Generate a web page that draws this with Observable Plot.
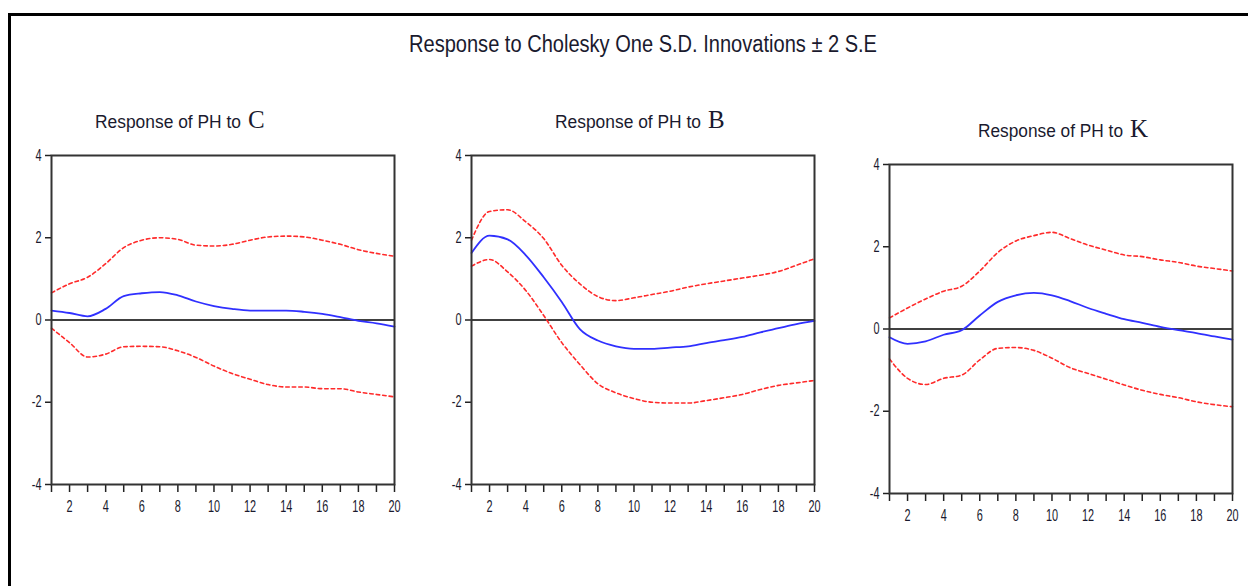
<!DOCTYPE html>
<html>
<head>
<meta charset="utf-8">
<script src="https://cdn.jsdelivr.net/npm/d3@7"></script>
<script src="https://cdn.jsdelivr.net/npm/@observablehq/plot@0.6"></script>
<style>
  html, body { margin: 0; padding: 0; background: #fff; }
  #root { position: relative; width: 1248px; height: 586px; overflow: hidden; background: #fff; font-family: "Liberation Sans", Arial, sans-serif; color: #1a1a2e; }
  #topline { position: absolute; left: 8px; top: 13px; width: 1240px; height: 3px; background: #000; }
  #leftline { position: absolute; left: 8px; top: 13px; width: 3px; height: 573px; background: #000; }
  .sq { position: absolute; white-space: nowrap; line-height: 1; }
  .sq .txt { display: inline-block; transform-origin: 0 0; }
  .sq .v { display: inline-block; font-family: "Liberation Serif", "Times New Roman", serif; font-size: 25px; }
  .panel { position: absolute; }
</style>
</head>
<body>
<div id="root">
  <div id="topline"></div>
  <div id="leftline"></div>
</div>
<script>
// ---- data ----
const periods = [1,2,3,4,5,6,7,8,9,10,11,12,13,14,15,16,17,18,19,20];
const yTicks = [-4,-2,0,2,4];
const xTicks = [1,2,3,4,5,6,7,8,9,10,11,12,13,14,15,16,17,18,19,20];

const mainTitle = "Response to Cholesky One S.D. Innovations ± 2 S.E";
const titlePrefix = "Response of PH to";
const titles = ["C", "B", "K"];

const respC = [0.23,0.17,0.09,0.27,0.58,0.65,0.68,0.60,0.45,0.34,0.27,0.23,0.23,0.23,0.20,0.15,0.07,-0.02,-0.08,-0.16];
const upperC = [0.66,0.88,1.04,1.37,1.76,1.94,2.00,1.96,1.82,1.80,1.84,1.94,2.02,2.04,2.02,1.94,1.84,1.71,1.62,1.55];
const lowerC = [-0.20,-0.55,-0.90,-0.83,-0.65,-0.64,-0.65,-0.75,-0.91,-1.12,-1.30,-1.44,-1.57,-1.63,-1.63,-1.67,-1.67,-1.75,-1.81,-1.87];

const respB = [1.63,2.05,1.96,1.58,1.04,0.44,-0.22,-0.50,-0.64,-0.70,-0.70,-0.67,-0.64,-0.56,-0.49,-0.41,-0.30,-0.20,-0.10,-0.02];
const upperB = [1.94,2.64,2.68,2.39,1.98,1.33,0.88,0.57,0.47,0.54,0.62,0.70,0.80,0.88,0.95,1.02,1.09,1.18,1.33,1.49];
const lowerB = [1.31,1.47,1.17,0.72,0.11,-0.55,-1.08,-1.55,-1.77,-1.91,-2.00,-2.02,-2.02,-1.96,-1.89,-1.81,-1.69,-1.59,-1.53,-1.47];

const respK = [-0.20,-0.36,-0.30,-0.14,-0.03,0.33,0.66,0.82,0.88,0.82,0.68,0.51,0.37,0.24,0.15,0.05,-0.03,-0.10,-0.18,-0.26];
const upperK = [0.27,0.51,0.73,0.92,1.04,1.41,1.86,2.14,2.27,2.35,2.20,2.04,1.92,1.80,1.76,1.68,1.62,1.53,1.47,1.41];
const lowerK = [-0.73,-1.20,-1.35,-1.20,-1.12,-0.75,-0.47,-0.45,-0.52,-0.71,-0.94,-1.08,-1.22,-1.36,-1.49,-1.59,-1.67,-1.77,-1.84,-1.89];

// ---- layout ----
const panels = [
  {title: titles[0], resp: respC, upper: upperC, lower: lowerC, frameLeft: 51, frameTop: 155, titleLeft: 95, titleTop: 107, titleW: 146},
  {title: titles[1], resp: respB, upper: upperB, lower: lowerB, frameLeft: 471, frameTop: 155, titleLeft: 555, titleTop: 107, titleW: 146},
  {title: titles[2], resp: respK, upper: upperK, lower: lowerK, frameLeft: 889, frameTop: 164, titleLeft: 978, titleTop: 116, titleW: 145}
];
const frameW = 343, frameH = 329;
const mL = 40, mT = 10, mR = 12, mB = 40;
const tickFont = 16;

const root = document.getElementById("root");

// squeezed (narrow) HTML text: scale horizontally to a target width
function squeezed(text, fontSize, targetW, left, top, extra) {
  const d = document.createElement("div");
  d.className = "sq";
  d.style.left = left + "px";
  d.style.top = top + "px";
  const s = document.createElement("span");
  s.className = "txt";
  s.style.fontSize = fontSize + "px";
  s.textContent = text;
  d.appendChild(s);
  if (extra) d.appendChild(extra);
  root.appendChild(d);
  const w = s.getBoundingClientRect().width;
  const k = targetW / w;
  s.style.transform = `scaleX(${k})`;
  s.style.marginRight = (-(w - targetW) + 7) + "px";
  return d;
}

squeezed(mainTitle, 23, 468, 409, 33);

for (const p of panels) {
  const v = document.createElement("span");
  v.className = "v";
  v.textContent = p.title;
  squeezed(titlePrefix, 18, p.titleW, p.titleLeft, p.titleTop, v);

  const rows = periods.map((x, i) => ({x, resp: p.resp[i], upper: p.upper[i], lower: p.lower[i]}));

  const chart = Plot.plot({
    width: frameW + mL + mR,
    height: frameH + mT + mB,
    marginLeft: mL, marginTop: mT, marginRight: mR, marginBottom: mB,
    style: {fontFamily: '"Liberation Sans", Arial, sans-serif', fontSize: tickFont + "px", color: "#1a1a2e", background: "transparent"},
    x: {domain: [1, 20]},
    y: {domain: [-4, 4]},
    marks: [
      Plot.axisY({ticks: yTicks, tickSize: 6, tickPadding: 4, fontSize: tickFont, label: null, stroke: "#222", strokeWidth: 1.5, tickFormat: d => String(d)}),
      Plot.axisX({ticks: xTicks, tickSize: 8, tickPadding: 8, fontSize: tickFont, label: null, stroke: "#222", strokeWidth: 1.5, tickFormat: d => d % 2 === 0 ? String(d) : ""}),
      Plot.ruleY([0], {stroke: "#000", strokeWidth: 1.5}),
      Plot.line(rows, {x: "x", y: "upper", stroke: "#ff2a2a", strokeWidth: 1.6, strokeDasharray: "3.5,3", curve: "monotone-x"}),
      Plot.line(rows, {x: "x", y: "lower", stroke: "#ff2a2a", strokeWidth: 1.6, strokeDasharray: "3.5,3", curve: "monotone-x"}),
      Plot.line(rows, {x: "x", y: "resp", stroke: "#3030ff", strokeWidth: 1.8, curve: "monotone-x"}),
      Plot.frame({stroke: "#333", strokeWidth: 2})
    ]
  });
  chart.classList.add("panel");
  chart.style.left = (p.frameLeft - mL) + "px";
  chart.style.top = (p.frameTop - mT) + "px";
  root.appendChild(chart);

  // make tick labels narrow like the reference
  chart.querySelectorAll("g[aria-label$='tick label'] text").forEach(t => {
    t.setAttribute("font-size", tickFont);
    t.style.fontSize = tickFont + "px";
    const len = t.getComputedTextLength();
    if (len > 0) {
      t.setAttribute("textLength", (len * 0.68).toFixed(2));
      t.setAttribute("lengthAdjust", "spacingAndGlyphs");
    }
  });
}
</script>
</body>
</html>
